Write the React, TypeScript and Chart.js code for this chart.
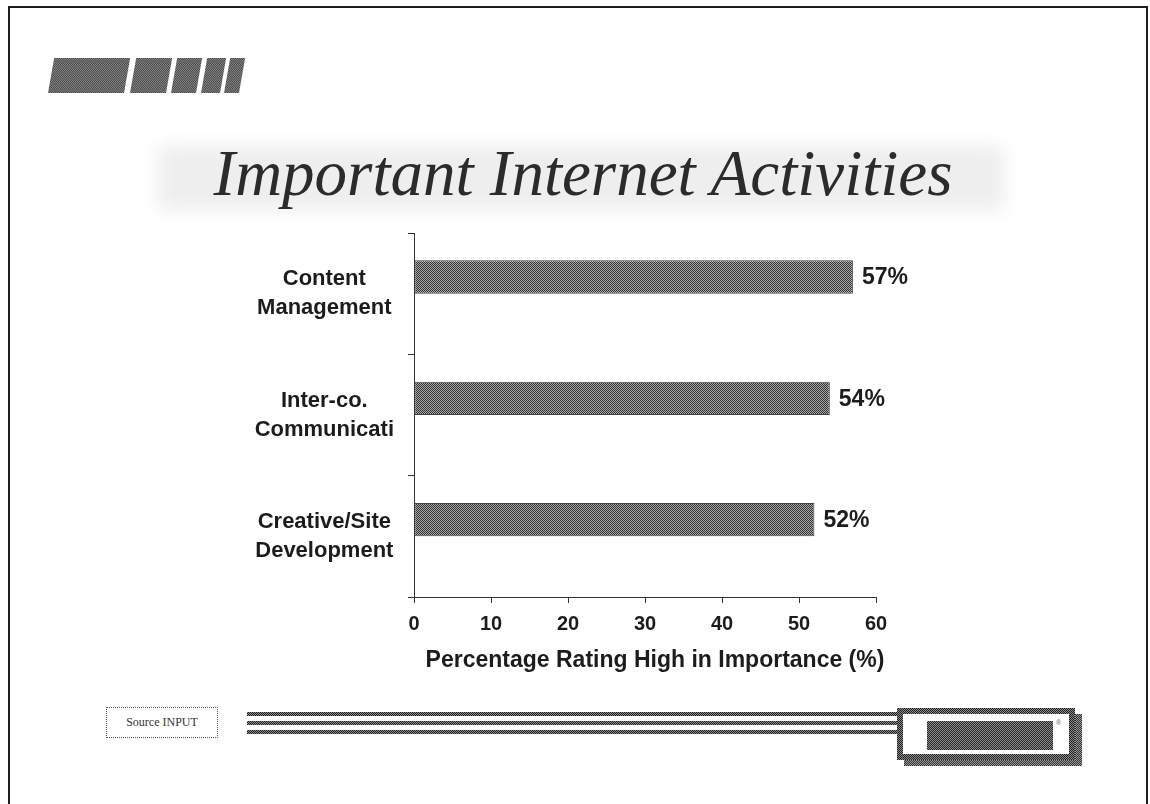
import React, { useEffect, useRef } from 'react';
import { Chart, registerables } from 'chart.js';

Chart.register(...registerables);

// ---- data ----
const categories: string[][] = [
  ['Content', 'Management'],
  ['Inter-co.', 'Communicati'],
  ['Creative/Site', 'Development'],
];
const values: number[] = [57, 54, 52];
const xTicks: number[] = [0, 10, 20, 30, 40, 50, 60];
const chartTitle = 'Important Internet Activities';
const xAxisTitle = 'Percentage Rating High in Importance (%)';
const sourceText = 'Source INPUT';

const FONT = '"Liberation Sans", Arial, Helvetica, sans-serif';
const TEXT = '#1c1c1c';
const checker = (dark: string, light: string) =>
  `repeating-conic-gradient(${dark} 0% 25%, ${light} 0% 50%) 0 0 / 2px 2px`;

export default function App() {
  const ref = useRef<HTMLCanvasElement | null>(null);

  useEffect(() => {
    const canvas = ref.current;
    if (!canvas) return;
    const pc = document.createElement('canvas');
    pc.width = 2;
    pc.height = 2;
    const pctx = pc.getContext('2d')!;
    pctx.fillStyle = '#a8a8a8';
    pctx.fillRect(0, 0, 2, 2);
    pctx.fillStyle = '#333333';
    pctx.fillRect(0, 0, 1, 1);
    pctx.fillRect(1, 1, 1, 1);
    const ctx0 = canvas.getContext('2d')!;
    const pattern = ctx0.createPattern(pc, 'repeat') as CanvasPattern;

    const labelPlugin = {
      id: 'valueLabels',
      afterDatasetsDraw(chart: any) {
        const ctx = chart.ctx;
        const meta = chart.getDatasetMeta(0);
        ctx.save();
        ctx.fillStyle = TEXT;
        ctx.font = `bold 23px ${FONT}`;
        ctx.textAlign = 'left';
        ctx.textBaseline = 'middle';
        meta.data.forEach((bar: any, i: number) => {
          ctx.fillText(`${values[i]}%`, bar.x + 9, bar.y + 1);
        });
        const ca = chart.chartArea;
        ctx.font = `bold 23px ${FONT}`;
        ctx.textAlign = 'center';
        ctx.fillText(xAxisTitle, (ca.left + ca.right) / 2 + 10, ca.bottom + 64);
        ctx.restore();
      },
    };

    const chart = new Chart(canvas, {
      type: 'bar',
      data: {
        labels: categories,
        datasets: [
          {
            data: values,
            backgroundColor: pattern,
            borderColor: '#444',
            borderWidth: 1,
            borderSkipped: false,
            categoryPercentage: 0.55,
            barPercentage: 1.0,
          },
          {
            data: values.map(() => null),
            backgroundColor: 'rgba(0,0,0,0)',
            categoryPercentage: 0.55,
            barPercentage: 1.0,
          },
        ],
      },
      options: {
        indexAxis: 'y',
        responsive: false,
        animation: false,
        devicePixelRatio: 1,
        layout: { padding: { left: 200, top: 233, right: 274, bottom: 107 } },
        plugins: {
          legend: { display: false },
          tooltip: { enabled: false },
          title: { display: false },
        },
        scales: {
          x: {
            type: 'linear',
            min: 0,
            max: 60,
            afterBuildTicks: (scale: any) => {
              scale.ticks = xTicks.map((v) => ({ value: v }));
            },
            afterFit: (scale: any) => {
              scale.height = 100;
            },
            grid: {
              drawOnChartArea: false,
              drawTicks: true,
              tickLength: 6,
              color: '#333',
            },
            border: { display: true, color: '#333', width: 1 },
            ticks: {
              color: TEXT,
              padding: 9,
              font: { family: FONT, size: 20, weight: 'bold' },
            },
          },
          y: {
            type: 'category',
            offset: true,
            afterFit: (scale: any) => {
              scale.width = 214;
            },
            grid: {
              offset: true,
              drawOnChartArea: false,
              drawTicks: true,
              tickLength: 6,
              color: '#333',
            },
            border: { display: true, color: '#333', width: 1 },
            ticks: {
              color: TEXT,
              padding: 14,
              crossAlign: 'center',
              font: { family: FONT, size: 22, weight: 'bold', lineHeight: 1.32 },
            },
          },
        },
      },
      plugins: [labelPlugin],
    } as any);

    return () => chart.destroy();
  }, []);

  const blocks = [
    { left: 48, width: 76 },
    { left: 130, width: 36 },
    { left: 171, width: 25 },
    { left: 201, width: 19 },
    { left: 224, width: 15 },
  ];

  return (
    <div
      style={{
        position: 'fixed',
        left: 0,
        top: 0,
        width: 1150,
        height: 804,
        background: '#ffffff',
        overflow: 'hidden',
      }}
    >
      {/* frame */}
      <div
        style={{
          position: 'absolute',
          left: 8,
          top: 6,
          width: 1136,
          height: 820,
          borderLeft: '2px solid #1e1e1e',
          borderRight: '2px solid #1e1e1e',
          borderTop: '2px solid #1e1e1e',
        }}
      />
      {/* top-left decorative blocks */}
      {blocks.map((b, i) => (
        <div
          key={i}
          style={{
            position: 'absolute',
            left: b.left,
            top: 58,
            width: b.width,
            height: 35,
            background: checker('#262626', '#8e8e8e'),
            transform: 'skewX(-10deg)',
            transformOrigin: 'bottom left',
          }}
        />
      ))}
      {/* title shadow */}
      <div
        style={{
          position: 'absolute',
          left: 158,
          top: 146,
          width: 846,
          height: 64,
          background: '#eeeeee',
          filter: 'blur(9px)',
        }}
      />
      <div
        style={{
          position: 'absolute',
          left: 183,
          top: 141,
          width: 800,
          textAlign: 'center',
          fontFamily: '"Liberation Serif", "Times New Roman", serif',
          fontStyle: 'italic',
          fontSize: 65,
          lineHeight: '64px',
          color: '#2b2b2b',
          whiteSpace: 'nowrap',
        }}
      >
        {chartTitle}
      </div>
      {/* source box */}
      <div
        style={{
          position: 'absolute',
          left: 106,
          top: 707,
          width: 110,
          height: 29,
          border: '1px dotted #555',
          fontFamily: '"Liberation Serif", "Times New Roman", serif',
          fontSize: 12,
          lineHeight: '29px',
          textAlign: 'center',
          color: '#333',
        }}
      >
        {sourceText}
      </div>
      {/* stripes */}
      {[712, 721, 730].map((t) => (
        <div
          key={t}
          style={{
            position: 'absolute',
            left: 247,
            top: t,
            width: 652,
            height: 4,
            background: checker('#222', '#888'),
          }}
        />
      ))}
      {/* logo box */}
      <div
        style={{
          position: 'absolute',
          left: 904,
          top: 714,
          width: 178,
          height: 52,
          background: checker('#333', '#999'),
        }}
      />
      <div
        style={{
          position: 'absolute',
          left: 897,
          top: 708,
          width: 178,
          height: 52,
          background: checker('#222', '#888'),
        }}
      />
      <div
        style={{
          position: 'absolute',
          left: 903,
          top: 714,
          width: 166,
          height: 40,
          background: '#fff',
        }}
      />
      <div
        style={{
          position: 'absolute',
          left: 927,
          top: 721,
          width: 126,
          height: 29,
          background: checker('#2a2a2a', '#8a8a8a'),
        }}
      />
      <div
        style={{
          position: 'absolute',
          left: 1056,
          top: 719,
          fontFamily: FONT,
          fontSize: 7,
          color: '#666',
        }}
      >
        ®
      </div>
      <canvas
        ref={ref}
        width={1150}
        height={804}
        style={{ position: 'absolute', left: 0, top: 0, width: 1150, height: 804 }}
      />
    </div>
  );
}
